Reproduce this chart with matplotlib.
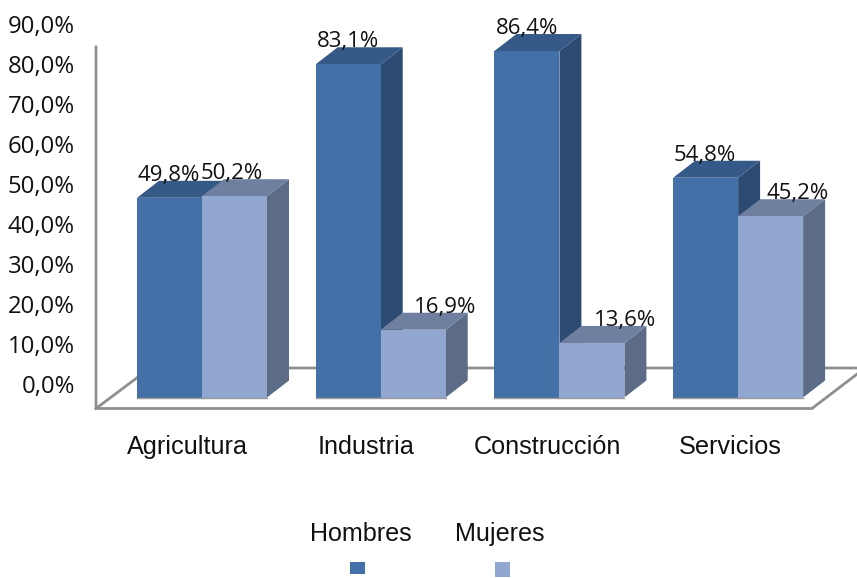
import matplotlib
matplotlib.use('Agg')
import matplotlib.pyplot as plt
from matplotlib.patches import Polygon, Rectangle

categories = ['Agricultura', 'Industria', 'Construcción', 'Servicios']
hombres = [49.8, 83.1, 86.4, 54.8]
mujeres = [50.2, 16.9, 13.6, 45.2]
y_ticks = [0, 10, 20, 30, 40, 50, 60, 70, 80, 90]
series_names = ['Hombres', 'Mujeres']

W, H = 857, 578
fig = plt.figure(figsize=(W / 100, H / 100), dpi=100)
ax = fig.add_axes([0, 0, 1, 1])

# scales: one px is 1/178.7 of a category step and 1/4.01 of a percent
PX_X = 1 / 178.7
PX_Y = 1 / 4.01
x0_px, y0_px = 202, 397.5
ax.set_xlim(-x0_px * PX_X, (W - x0_px) * PX_X)
ax.set_ylim(-(H - y0_px) * PX_Y, y0_px * PX_Y)
ax.axis('off')

bar_w = 65 * PX_X
dx, dy = 22 * PX_X, 17 * PX_Y

front_h, top_h, side_h = '#4371A7', '#365A87', '#2D4A72'
front_m, top_m, side_m = '#92A7D0', '#6E7F9F', '#5C6C87'
line_c = '#8F8F8F'
label_font = 'Open Sans'
axis_font = 'Liberation Sans'


def px_x(p):
    return (p - x0_px) * PX_X


def px_y(p):
    return (y0_px - p) * PX_Y


# wall and floor
ax.plot([px_x(96), px_x(96), px_x(812), px_x(865)],
        [px_y(47), px_y(408.5), px_y(408.5), px_y(368)], color=line_c, lw=2, solid_joinstyle='miter', zorder=1)
ax.plot([px_x(96), px_x(150), px_x(860)],
        [px_y(408.5), px_y(368), px_y(368)], color=line_c, lw=2, zorder=1)


def draw_bar(left, val, front, top, side, z):
    right = left + bar_w
    ax.add_patch(Polygon([(right, 0), (right + dx, dy), (right + dx, val + dy), (right, val)], color=side, lw=0, zorder=z))
    ax.add_patch(Polygon([(left, val), (left + dx, val + dy), (right + dx, val + dy), (right, val)], color=top, lw=0, zorder=z))
    ax.add_patch(Rectangle((left, 0), bar_w, val, facecolor=front, edgecolor='none', zorder=z + 0.1))
    ax.plot([left, right], [0, 0], color='#9A9A9A', lw=1, zorder=z + 0.2)


for i in range(len(categories)):
    draw_bar(i - bar_w, hombres[i], front_h, top_h, side_h, 2 + i)
    draw_bar(i, mujeres[i], front_m, top_m, side_m, 2.5 + i)

# data labels, shifted by hand as in the original
offs_h = [-1, 0, 0, -1]
offs_m = [-3, 32, 33, 27]
for i in range(len(categories)):
    ax.text(i - bar_w / 2 + offs_h[i] * PX_X, hombres[i] + 17 * PX_Y,
            f'{hombres[i]:.1f}%'.replace('.', ','), ha='center', va='baseline',
            family=label_font, fontsize=16, color='#111111', zorder=20)
    ax.text(i + bar_w / 2 + offs_m[i] * PX_X, mujeres[i] + 17 * PX_Y,
            f'{mujeres[i]:.1f}%'.replace('.', ','), ha='center', va='baseline',
            family=label_font, fontsize=16, color='#111111', zorder=20)

# value axis labels
for t in y_ticks:
    ax.text(px_x(75), t * 0.9975 + 2.7, f'{t:.1f}%'.replace('.', ','), ha='right', va='center',
            family=label_font, fontsize=17.2, color='#111111')

# category labels
cat_x = [187, 366, 547, 730]
for i, c in enumerate(categories):
    ax.text(px_x(cat_x[i]), px_y(447), c, ha='center', va='center',
            family=axis_font, fontsize=18.2, color='#111111')

# legend
legend_text_x = [361, 500]
legend_key_x = [350, 495]
legend_key_h = [12, 15]
legend_colors = [front_h, front_m]
for name, tx, kx, kh, c in zip(series_names, legend_text_x, legend_key_x, legend_key_h, legend_colors):
    ax.text(px_x(tx), px_y(534), name, ha='center', va='center',
            family=axis_font, fontsize=18.1, color='#111111')
    ax.add_patch(Rectangle((px_x(kx), px_y(562 + kh)), 15 * PX_X, kh * PX_Y, facecolor=c, edgecolor='none'))

fig.savefig('out.png', dpi=100)
